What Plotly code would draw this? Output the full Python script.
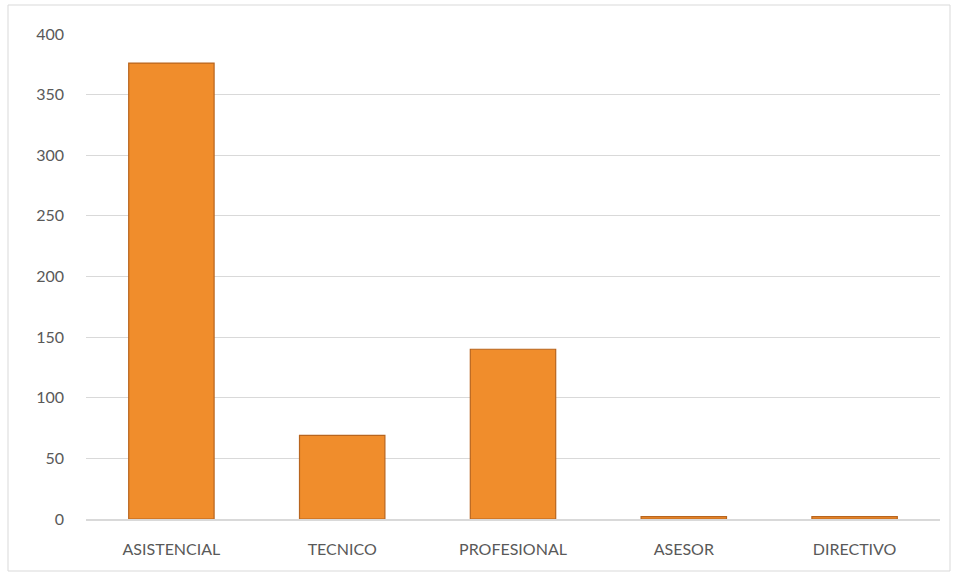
import plotly.graph_objects as go

categories = ["ASISTENCIAL", "TECNICO", "PROFESIONAL", "ASESOR", "DIRECTIVO"]
values = [376, 69, 140, 2, 2]
y_ticks = [0, 50, 100, 150, 200, 250, 300, 350, 400]

W, H = 958, 577
L, R, T, B = 86, 18, 34, 58
pw, ph = W - L - R, H - T - B

fig = go.Figure()
fig.add_trace(go.Bar(
    x=categories, y=values,
    width=0.5,
    marker=dict(color="#F08D2C", line=dict(color="#B8651E", width=1.2)),
    hoverinfo="x+y",
))

fig.update_layout(
    width=W, height=H,
    margin=dict(l=L, r=R, t=T, b=B),
    paper_bgcolor="white", plot_bgcolor="white",
    showlegend=False,
    font=dict(family="Lato, 'Open Sans', sans-serif", size=16, color="#595959"),
    bargap=0.5,
    shapes=[dict(
        type="rect", xref="paper", yref="paper",
        x0=(8 - L) / pw, x1=(950 - L) / pw,
        y0=-(571 - (H - B)) / ph, y1=1 + (T - 5) / ph,
        line=dict(color="#D9D9D9", width=1), fillcolor="rgba(0,0,0,0)", layer="below",
    )],
)
fig.update_yaxes(
    range=[0, 400], tickvals=y_ticks, ticktext=[str(v) for v in y_ticks],
    showgrid=True, gridcolor="#D9D9D9", gridwidth=1,
    zeroline=False, showline=False, ticks="",
    ticklabelstandoff=21, tickfont=dict(size=16, color="#595959"),
)
fig.update_xaxes(
    showline=True, linecolor="#D9D9D9", linewidth=1.5, ticks="",
    ticklabelstandoff=15, tickfont=dict(size=16, color="#595959"),
)

fig.write_html("out.html")
